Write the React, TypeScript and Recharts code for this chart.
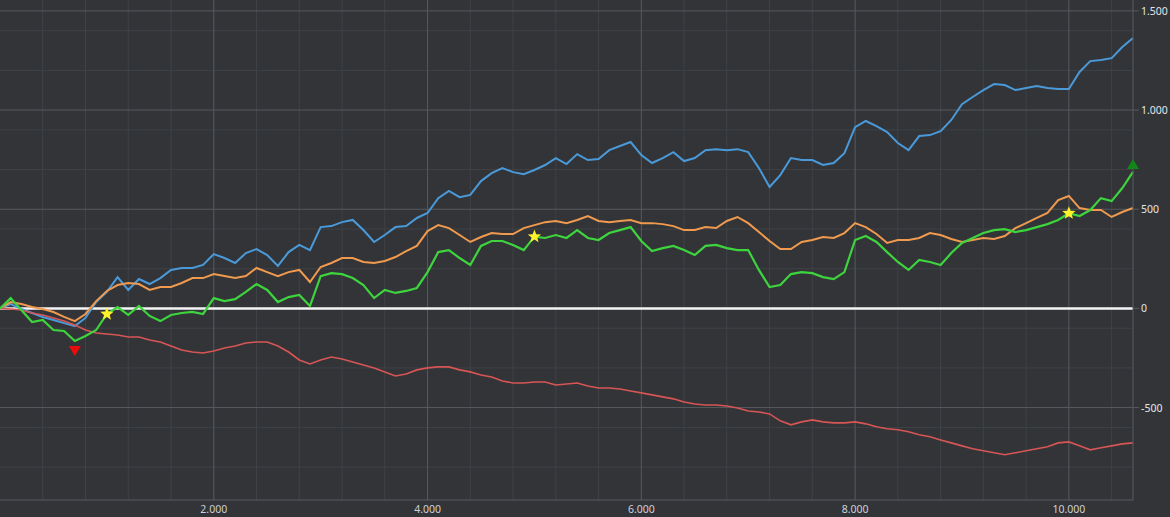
import {
  ComposedChart,
  Line,
  XAxis,
  YAxis,
  CartesianGrid,
  ReferenceLine,
  ReferenceDot,
} from "recharts";

// sampled every 100 trades
const STEP = 100;

const blueSeries = [
  0, 22, -3, -23, -43, -58, -74, -89, -48, 32,
  83, 158, 93, 148, 123, 153, 194, 204, 204, 219,
  274, 254, 229, 279, 299, 269, 214, 284, 320, 294,
  410, 415, 435, 446, 395, 335, 370, 410, 415, 456,
  481, 556, 592, 561, 572, 642, 682, 708, 687, 677,
  698, 723, 758, 728, 778, 748, 753, 798, 819, 839,
  773, 733, 758, 788, 743, 758, 798, 803, 798, 803,
  788, 708, 612, 672, 758, 748, 748, 723, 733, 783,
  914, 945, 919, 889, 834, 798, 869, 874, 894, 950,
  1030, 1066, 1101, 1131, 1126, 1101, 1111, 1121, 1111, 1106,
  1106, 1192, 1247, 1252, 1262, 1318, 1363,
];

const orangeSeries = [
  0, 32, 22, 7, -3, -18, -43, -64, -28, 37,
  88, 118, 128, 123, 93, 108, 108, 128, 153, 153,
  173, 163, 153, 163, 204, 183, 163, 183, 194, 133,
  209, 229, 254, 254, 234, 229, 239, 259, 289, 315,
  390, 420, 405, 370, 335, 360, 380, 375, 375, 405,
  420, 435, 441, 430, 446, 466, 441, 435, 441, 446,
  430, 430, 425, 415, 395, 395, 410, 405, 441, 461,
  430, 385, 340, 299, 299, 335, 345, 360, 355, 380,
  430, 410, 375, 330, 345, 345, 355, 380, 370, 350,
  335, 345, 355, 350, 365, 405, 430, 456, 481, 546,
  567, 506, 496, 496, 461, 486, 506,
];

const greenSeries = [
  0, 52, -8, -69, -58, -109, -114, -164, -139, -109,
  -28, 7, -33, 12, -38, -64, -33, -23, -18, -28,
  52, 37, 47, 83, 123, 93, 32, 57, 68, 12,
  163, 178, 173, 153, 118, 52, 93, 78, 88, 103,
  183, 284, 294, 254, 219, 315, 340, 340, 320, 294,
  362, 355, 370, 355, 395, 355, 345, 380, 395, 410,
  340, 289, 304, 315, 294, 269, 315, 320, 304, 294,
  294, 194, 108, 118, 173, 183, 178, 158, 148, 183,
  345, 365, 335, 284, 234, 194, 244, 234, 219, 279,
  330, 355, 380, 395, 400, 385, 395, 410, 425, 446,
  480, 466, 496, 556, 541, 607, 688,
];

const redSeries = [
  0, -3, -8, -23, -33, -48, -64, -84, -109, -124,
  -129, -134, -144, -144, -159, -169, -190, -210, -220, -225,
  -215, -200, -190, -174, -169, -169, -190, -220, -260, -280,
  -260, -245, -255, -270, -285, -300, -320, -341, -331, -310,
  -300, -295, -295, -310, -320, -336, -346, -366, -376, -376,
  -371, -371, -386, -381, -376, -391, -401, -401, -406, -416,
  -426, -436, -446, -456, -472, -482, -487, -487, -492, -502,
  -517, -522, -532, -567, -587, -572, -562, -572, -577, -577,
  -572, -582, -597, -607, -612, -622, -637, -647, -663, -678,
  -693, -708, -718, -728, -738, -728, -718, -708, -698, -678,
  -673, -693, -713, -703, -693, -683, -678,
];

// markers on the green curve
const starPoints = [
  { x: 1000, y: -28 },
  { x: 5000, y: 362 },
  { x: 10000, y: 480 },
];
const lowPoint = { x: 700, y: -164 };
const endPoint = { x: 10600, y: 688 };

const xTicks = [2000, 4000, 6000, 8000, 10000];
const yTicks = [-500, 0, 500, 1000, 1500];
const xMinor = [400, 800, 1200, 1600, 2400, 2800, 3200, 3600, 4400, 4800, 5200, 5600, 6400, 6800, 7200, 7600, 8400, 8800, 9200, 9600, 10400];
const yMinor = [-900, -800, -700, -600, -400, -300, -200, -100, 100, 200, 300, 400, 600, 700, 800, 900, 1100, 1200, 1300, 1400];

const chartData = blueSeries.map((b, i) => ({
  x: i * STEP,
  blue: b,
  orange: orangeSeries[i],
  green: greenSeries[i],
  red: redSeries[i],
}));

const BG = "#323438";
const MINOR = "#3f4246";
const MAJOR = "#575a5e";

// 1234 -> "1.234"
function fmt(v: number): string {
  const s = Math.abs(v).toString().replace(/\B(?=(\d{3})+(?!\d))/g, ".");
  return v < 0 ? `-${s}` : s;
}

function XTick(props: any) {
  const { x, y, payload } = props;
  return (
    <text x={x} y={y + 5} textAnchor="middle" fill="#cfd2d6" fontSize={10.5} fontFamily="'Noto Sans', sans-serif">
      {fmt(payload.value)}
    </text>
  );
}

function YTick(props: any) {
  const { x, y, payload } = props;
  return (
    <text x={x} y={y + 4} textAnchor="start" fill="#e4e6e8" fontSize={10.5} fontFamily="'Noto Sans', sans-serif">
      {fmt(payload.value)}
    </text>
  );
}

function Star(props: any) {
  const { cx, cy } = props;
  const pts: string[] = [];
  for (let i = 0; i < 10; i++) {
    const r = i % 2 === 0 ? 7 : 3;
    const a = -Math.PI / 2 + (i * Math.PI) / 5;
    pts.push(`${cx + r * Math.cos(a)},${cy + r * Math.sin(a)}`);
  }
  return <polygon points={pts.join(" ")} fill="#fff12a" />;
}

function DownTriangle(props: any) {
  const { cx, cy } = props;
  const y0 = cy + 5;
  return <polygon points={`${cx - 6},${y0} ${cx + 6},${y0} ${cx},${y0 + 10}`} fill="#e80c0c" />;
}

function UpTriangle(props: any) {
  const { cx, cy } = props;
  const y0 = cy - 3;
  return <polygon points={`${cx - 6},${y0} ${cx + 6},${y0} ${cx},${y0 - 10}`} fill="#13861a" />;
}

export default function App() {
  return (
    <div style={{ position: "absolute", left: 0, top: 0, width: 1170, height: 517, background: BG }}>
      <ComposedChart
        width={1170}
        height={517}
        data={chartData}
        margin={{ top: 0, right: 0, bottom: 0, left: 0 }}
      >
        <CartesianGrid
          stroke={MINOR}
          strokeWidth={1}
          horizontalValues={yMinor}
          verticalValues={xMinor}
        />
        <CartesianGrid
          stroke={MAJOR}
          strokeWidth={1}
          horizontalValues={yTicks}
          verticalValues={xTicks}
        />
        <XAxis
          dataKey="x"
          type="number"
          domain={[0, 10600]}
          ticks={xTicks}
          height={17}
          axisLine={{ stroke: MAJOR }}
          tickLine={false}
          tick={<XTick />}
        />
        <YAxis
          type="number"
          orientation="right"
          domain={[-966, 1555]}
          ticks={yTicks}
          width={37}
          axisLine={{ stroke: MAJOR }}
          tickLine={{ stroke: MAJOR }}
          tickSize={6}
          tick={<YTick />}
          allowDataOverflow
        />
        <ReferenceLine y={0} stroke="#f4f4f4" strokeWidth={2.5} />
        <Line dataKey="blue" stroke="#4a9ada" strokeWidth={2} dot={false} activeDot={false} isAnimationActive={false} />
        <Line dataKey="orange" stroke="#ef9a4e" strokeWidth={2} dot={false} activeDot={false} isAnimationActive={false} />
        <Line dataKey="red" stroke="#d85555" strokeWidth={1.6} dot={false} activeDot={false} isAnimationActive={false} />
        <Line dataKey="green" stroke="#3ed43e" strokeWidth={2.2} dot={false} activeDot={false} isAnimationActive={false} />
        {starPoints.map((p) => (
          <ReferenceDot key={p.x} x={p.x} y={p.y} r={7} shape={<Star />} />
        ))}
        <ReferenceDot x={lowPoint.x} y={lowPoint.y} r={6} shape={<DownTriangle />} />
        <ReferenceDot x={endPoint.x} y={endPoint.y} r={6} shape={<UpTriangle />} />
      </ComposedChart>
    </div>
  );
}
